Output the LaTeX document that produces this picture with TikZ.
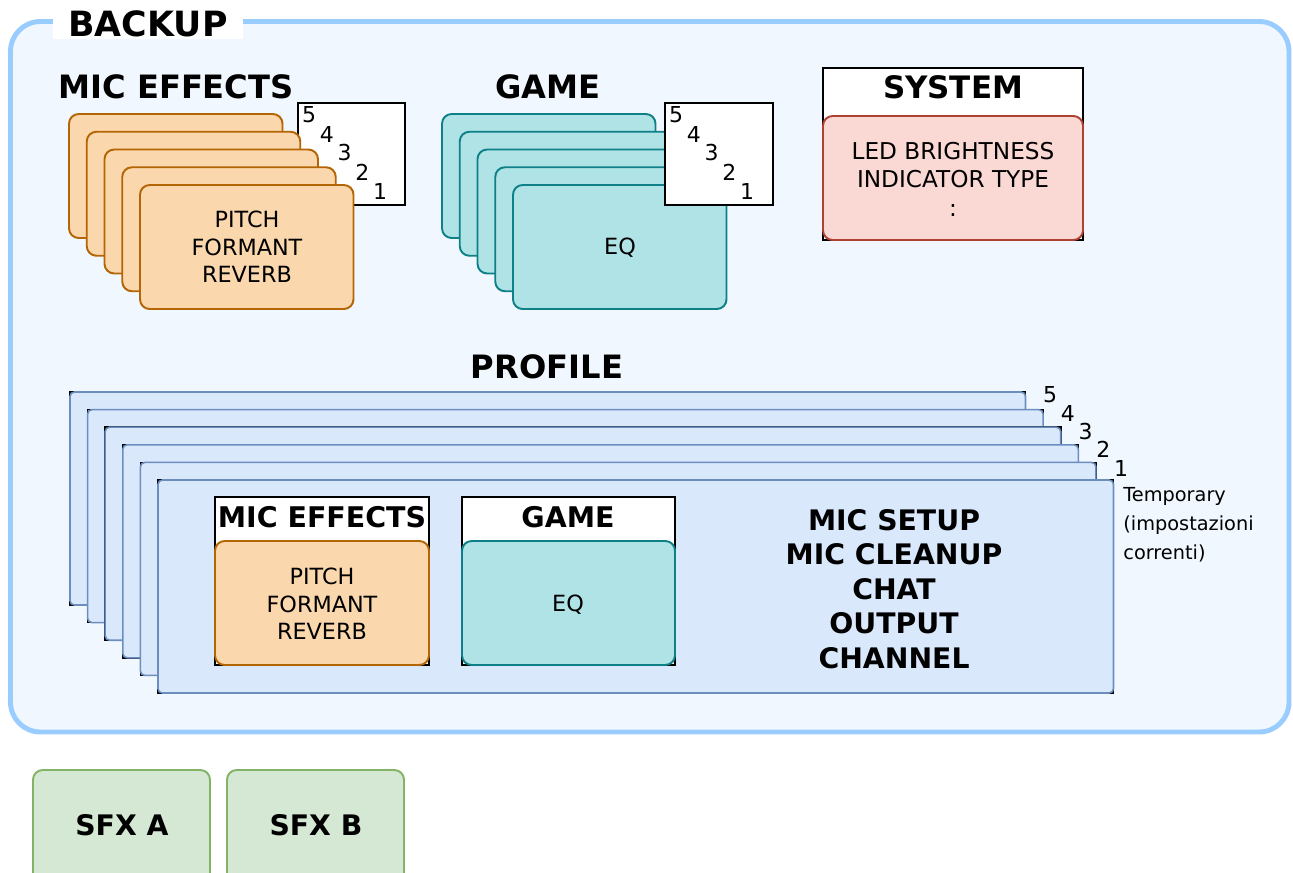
\documentclass[tikz,border=0pt]{standalone}
\usepackage{fontspec}
\setmainfont{DejaVu Sans}
\usetikzlibrary{positioning}

\definecolor{backupline}{HTML}{99CCFF}
\definecolor{backupfill}{HTML}{F0F7FE}
\definecolor{orangeline}{HTML}{B46504}
\definecolor{orangefill}{HTML}{FAD7AC}
\definecolor{tealline}{HTML}{0E8088}
\definecolor{tealfill}{HTML}{B0E3E6}
\definecolor{redline}{HTML}{AE4132}
\definecolor{redfill}{HTML}{FAD9D5}
\definecolor{profline}{HTML}{6C8EBF}
\definecolor{proffill}{HTML}{DAE8FC}
\definecolor{sfxline}{HTML}{82B366}
\definecolor{sfxfill}{HTML}{D5E8D4}

\newcommand{\bigtitle}{\fontsize{19.8}{22}\selectfont\bfseries}
\newcommand{\headfont}{\fontsize{18.3}{21}\selectfont\bfseries}
\newcommand{\subhead}{\fontsize{16.1}{19.6}\selectfont\bfseries}
\newcommand{\itemfont}{\fontsize{12.7}{15.6}\selectfont}

\begin{document}
\begin{tikzpicture}[x=0.02cm, y=-0.02cm,
  backup/.style={draw=backupline, line width=2.8pt, fill=backupfill, rounded corners=17pt},
  orangecard/.style={draw=orangeline, fill=orangefill, line width=1.1pt, rounded corners=5.5pt},
  tealcard/.style={draw=tealline, fill=tealfill, line width=1.1pt, rounded corners=5.5pt},
  redcard/.style={draw=redline, fill=redfill, line width=1.1pt, rounded corners=5.5pt},
  profcard/.style={draw=profline, fill=proffill, line width=0.9pt, rounded corners=2.5pt},
  sfxcard/.style={draw=sfxline, fill=sfxfill, line width=1.1pt, rounded corners=5.5pt},
  frame/.style={draw=black, fill=white, line width=1pt},
  num/.style={inner sep=0pt, font=\fontsize{12.5}{14}\selectfont},
  label/.style={inner sep=0pt, align=center}]

  \useasboundingbox (0,0) rectangle (1293,872);
  \fill[white] (0,0) rectangle (1293,872);

  % outer backup area
  \draw[backup] (10.5,21.5) rectangle (1289,732);
  \fill[white] (53,3) rectangle (243,39);
  \node[label, font=\bigtitle] (backup) at (148,24) {BACKUP};

  % mic effects presets
  \node[label, font=\headfont] (micfx) at (176,87) {MIC EFFECTS};
  \draw[frame] (298,103) rectangle (405,205);
  \foreach \n [count=\k from 0] in {5,4,3,2,1}
    \node[num] (micnum\n) at (309+17.75*\k,115+19*\k) {\n};
  \foreach \i in {0,...,4}
    \draw[orangecard] (69+17.75*\i,114+17.75*\i) rectangle ++(213.5,124);
  \node[label, font=\itemfont] (micitems) at (247,247) {PITCH\\FORMANT\\REVERB};

  % game presets
  \node[label, font=\headfont] (game) at (548,87) {GAME};
  \foreach \i in {0,...,4}
    \draw[tealcard] (442+17.75*\i,114+17.75*\i) rectangle ++(213.5,124);
  \node[label, font=\itemfont] (gameeq) at (620,248) {EQ};
  \draw[frame] (665,103) rectangle (773,205);
  \foreach \n [count=\k from 0] in {5,4,3,2,1}
    \node[num] (gamenum\n) at (676+17.75*\k,115+19*\k) {\n};

  % system
  \draw[frame] (823,68) rectangle (1083,240);
  \draw[redcard] (823,116) rectangle (1083,240);
  \node[label, font=\fontsize{17.6}{20}\selectfont\bfseries] (system) at (953,87) {SYSTEM};
  \node[label, font=\fontsize{13.2}{16.2}\selectfont] (sysitems) at (953,179)
    {LED BRIGHTNESS\\INDICATOR TYPE\\:};

  % profiles
  \node[label, font=\headfont] (profile) at (547,367) {PROFILE};
  \foreach \i in {0,...,5} {
    \draw[black, line width=0.9pt] (70+17.6*\i,392+17.6*\i) rectangle ++(955.5,213);
    \draw[profcard] (70+17.6*\i,392+17.6*\i) rectangle ++(955.5,213);
  }
  \foreach \n [count=\k from 0] in {5,4,3,2,1}
    \node[num] (profnum\n) at (1050+17.75*\k,395+18.25*\k) {\n};
  \node[inner sep=0pt, anchor=north west, align=left,
        font=\fontsize{11}{16.4}\selectfont] (temp) at (1123,487)
    {Temporary\\(impostazioni\\correnti)};

  \draw[frame] (215,497) rectangle (429,665);
  \draw[orangecard] (215,541) rectangle (429,665);
  \node[label, font=\fontsize{16.2}{19}\selectfont\bfseries] (pmicfx) at (322,517) {MIC EFFECTS};
  \node[label, font=\itemfont] (pmicitems) at (322,604) {PITCH\\FORMANT\\REVERB};

  \draw[frame] (462,497) rectangle (675,665);
  \draw[tealcard] (462,541) rectangle (675,665);
  \node[label, font=\fontsize{16.2}{19}\selectfont\bfseries] (pgame) at (568,517) {GAME};
  \node[label, font=\itemfont] (pgameeq) at (568,605) {EQ};

  \node[label, font=\subhead] (setup) at (894,589)
    {MIC SETUP\\MIC CLEANUP\\CHAT\\OUTPUT\\CHANNEL};

  % sound effects
  \draw[sfxcard] (33,770) rectangle (210,895);
  \draw[sfxcard] (227,770) rectangle (404,895);
  \node[label, font=\subhead] (sfxa) at (122,825) {SFX A};
  \node[label, font=\subhead] (sfxb) at (316,825) {SFX B};
\end{tikzpicture}
\end{document}
